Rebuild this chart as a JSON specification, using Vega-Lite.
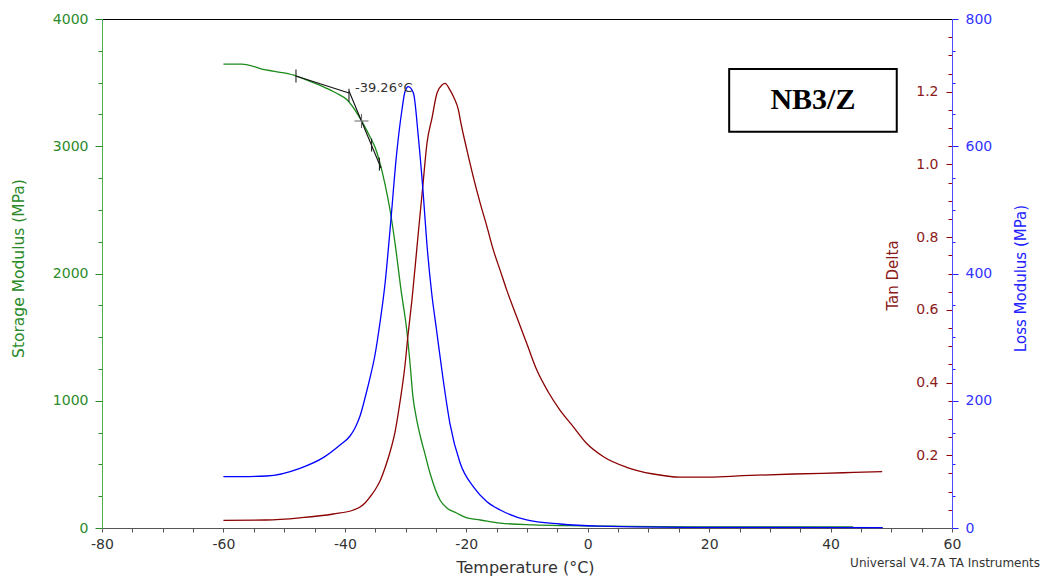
{
  "$schema": "https://vega.github.io/schema/vega-lite/v6.json",
  "width": 850,
  "height": 509,
  "autosize": "none",
  "padding": {"left": 102, "top": 19, "right": 93, "bottom": 52},
  "background": "white",
  "config": {
    "view": {"stroke": null},
    "font": "DejaVu Sans",
    "axis": {"grid": false, "labelFont": "DejaVu Sans", "titleFont": "DejaVu Sans", "titleFontWeight": "normal"}
  },
  "datasets": {
    "storage": [
      {"T": -60, "S": 3646}, {"T": -57, "S": 3646}, {"T": -53, "S": 3600}, {"T": -50, "S": 3576},
      {"T": -48, "S": 3552}, {"T": -46, "S": 3515}, {"T": -43.6, "S": 3468}, {"T": -41.5, "S": 3420},
      {"T": -39.6, "S": 3363}, {"T": -37.8, "S": 3245}, {"T": -35.86, "S": 3075}, {"T": -35.04, "S": 2994},
      {"T": -34.21, "S": 2868}, {"T": -33.39, "S": 2703}, {"T": -32.56, "S": 2499}, {"T": -31.74, "S": 2240},
      {"T": -30.75, "S": 1871}, {"T": -29.81, "S": 1556}, {"T": -29.27, "S": 1297}, {"T": -28.78, "S": 1029},
      {"T": -28.28, "S": 880}, {"T": -27.62, "S": 731}, {"T": -26.8, "S": 581}, {"T": -25.98, "S": 432},
      {"T": -24.33, "S": 220}, {"T": -23.2, "S": 157}, {"T": -21.6, "S": 118}, {"T": -19.9, "S": 79},
      {"T": -17.7, "S": 63}, {"T": -14.4, "S": 39}, {"T": -9, "S": 24}, {"T": -3, "S": 18},
      {"T": 3.7, "S": 14}, {"T": 18.5, "S": 8}, {"T": 43.7, "S": 8}
    ],
    "tan": [
      {"T": -60, "D": 0.021}, {"T": -53, "D": 0.022}, {"T": -47.4, "D": 0.028}, {"T": -41.9, "D": 0.0385},
      {"T": -38.6, "D": 0.0495}, {"T": -37.51, "D": 0.0578}, {"T": -36.68, "D": 0.0688}, {"T": -35.86, "D": 0.0853},
      {"T": -35.04, "D": 0.1045}, {"T": -34.21, "D": 0.1293}, {"T": -33.39, "D": 0.165}, {"T": -32.56, "D": 0.209},
      {"T": -31.74, "D": 0.264}, {"T": -30.92, "D": 0.3465}, {"T": -30.09, "D": 0.4483}, {"T": -29.6, "D": 0.5308},
      {"T": -28.95, "D": 0.6271}, {"T": -27.95, "D": 0.8033}, {"T": -27.13, "D": 0.9461}, {"T": -26.47, "D": 1.0589},
      {"T": -25.65, "D": 1.1276}, {"T": -24.82, "D": 1.1964}, {"T": -24.0, "D": 1.2184}, {"T": -23.5, "D": 1.223},
      {"T": -22.7, "D": 1.205}, {"T": -22.1, "D": 1.186}, {"T": -21.3, "D": 1.15}, {"T": -20.9, "D": 1.115},
      {"T": -19.9, "D": 1.04}, {"T": -18.85, "D": 0.966}, {"T": -17.7, "D": 0.893}, {"T": -16.6, "D": 0.829},
      {"T": -15.55, "D": 0.765}, {"T": -14.45, "D": 0.71}, {"T": -13.35, "D": 0.655}, {"T": -11.7, "D": 0.581},
      {"T": -10.05, "D": 0.508}, {"T": -8.4, "D": 0.435}, {"T": -6.5, "D": 0.374}, {"T": -4.6, "D": 0.325},
      {"T": -2.4, "D": 0.279}, {"T": -0.2, "D": 0.233}, {"T": 2.6, "D": 0.196}, {"T": 6.4, "D": 0.167},
      {"T": 10.8, "D": 0.1485}, {"T": 15.2, "D": 0.14}, {"T": 20.1, "D": 0.14}, {"T": 25.6, "D": 0.144},
      {"T": 33.9, "D": 0.1485}, {"T": 42.1, "D": 0.152}, {"T": 48.5, "D": 0.155}
    ],
    "loss": [
      {"T": -60, "L": 80.6}, {"T": -52.9, "L": 81.7}, {"T": -47.4, "L": 93.8}, {"T": -43.5, "L": 111},
      {"T": -40.8, "L": 130.5}, {"T": -39.15, "L": 144.6}, {"T": -38.33, "L": 157.2}, {"T": -37.5, "L": 176},
      {"T": -36.68, "L": 204.3}, {"T": -35.86, "L": 235.8}, {"T": -35.04, "L": 271.9}, {"T": -34.2, "L": 323.8},
      {"T": -33.37, "L": 385.1}, {"T": -32.56, "L": 468.4}, {"T": -31.46, "L": 589.4}, {"T": -30.6, "L": 657},
      {"T": -30.1, "L": 685.7}, {"T": -29.55, "L": 693.6}, {"T": -28.7, "L": 683.2}, {"T": -27.9, "L": 615},
      {"T": -27.1, "L": 526.5}, {"T": -26.5, "L": 447.9}, {"T": -25.7, "L": 369.4}, {"T": -24.9, "L": 311.2},
      {"T": -23.8, "L": 232.6}, {"T": -22.7, "L": 164.6}, {"T": -21, "L": 101.7}, {"T": -18.85, "L": 64.9},
      {"T": -16.6, "L": 41.3}, {"T": -14.4, "L": 28.3}, {"T": -10.05, "L": 12.6}, {"T": -4.6, "L": 6.3},
      {"T": 2, "L": 3.1}, {"T": 18.5, "L": 1.1}, {"T": 48.6, "L": 0.5}
    ],
    "tangent": [
      {"seg": 1, "T": -48.05, "S": 3552}, {"seg": 1, "T": -39.32, "S": 3418},
      {"seg": 2, "T": -39.32, "S": 3434}, {"seg": 2, "T": -34.05, "S": 2829}
    ],
    "ticks": [
      {"T": -48.05, "S": 3552}, {"T": -39.32, "S": 3400}, {"T": -35.6, "S": 3010}, {"T": -34.3, "S": 2860}
    ],
    "cross": [{"T": -37.26, "S": 3198}]
  },
  "layer": [
    {
      "data": {"name": "storage"},
      "mark": {"type": "line", "color": "#1a8a1a", "strokeWidth": 1.3, "interpolate": "monotone"},
      "encoding": {
        "x": {
          "field": "T", "type": "quantitative",
          "scale": {"domain": [-80, 60], "nice": false, "zero": false},
          "axis": {
            "orient": "bottom",
            "values": [-80,-75,-70,-65,-60,-55,-50,-45,-40,-35,-30,-25,-20,-15,-10,-5,0,5,10,15,20,25,30,35,40,45,50,55,60],
            "labelExpr": "datum.value % 20 === 0 ? '' + datum.value : ''",
            "labelFlush": false, "labelOverlap": false, "labelFontSize": 14, "labelColor": "#333333",
            "tickSize": 4, "labelPadding": 5, "tickColor": "#555555", "domainColor": "#555555",
            "title": "Temperature (°C)", "titleFontSize": 16, "titleColor": "#333333",
            "titleX": 423, "titleY": 39, "titleAlign": "center", "titleBaseline": "middle"
          }
        },
        "y": {
          "field": "S", "type": "quantitative",
          "scale": {"domain": [0, 4000], "nice": false},
          "axis": {
            "orient": "left",
            "values": [0,250,500,750,1000,1250,1500,1750,2000,2250,2500,2750,3000,3250,3500,3750,4000],
            "labelExpr": "datum.value % 1000 === 0 ? '' + datum.value : ''",
            "labelOverlap": false, "labelFlush": false, "labelFontSize": 14, "labelColor": "#2a8a2a",
            "tickSize": {"condition": {"test": "datum.value % 1000 === 0", "value": 7}, "value": 4},
            "labelPadding": 7, "tickColor": "#2a8a2a", "domainColor": "#4caf50",
            "title": "Storage Modulus (MPa)", "titleFontSize": 15.5, "titleColor": "#2a8a2a",
            "titleAngle": 270, "titleX": -84, "titleY": 249, "titleAlign": "center", "titleBaseline": "middle"
          }
        }
      }
    },
    {
      "data": {"name": "tan"},
      "mark": {"type": "line", "color": "#8b0000", "strokeWidth": 1.3, "interpolate": "monotone"},
      "encoding": {
        "x": {
          "field": "T", "type": "quantitative",
          "axis": {"orient": "top", "labels": false, "ticks": false, "domainColor": "#000000", "domainWidth": 1.2, "title": null}
        },
        "y": {
          "field": "D", "type": "quantitative",
          "scale": {"domain": [0, 1.4], "nice": false},
          "axis": {
            "orient": "left", "offset": -850,
            "values": [0.05,0.1,0.15,0.2,0.25,0.3,0.35,0.4,0.45,0.5,0.55,0.6,0.65,0.7,0.75,0.8,0.85,0.9,0.95,1.0,1.05,1.1,1.15,1.2,1.25,1.3,1.35],
            "labelExpr": "abs(datum.value*5 - round(datum.value*5)) < 0.001 && datum.value < 1.3 ? format(datum.value, '.1f') : ''",
            "labelOverlap": false, "labelFlush": false, "labelFontSize": 14, "labelColor": "#8b1a1a",
            "tickSize": {"condition": {"test": "abs(datum.value*5 - round(datum.value*5)) < 0.001", "value": 6}, "value": 4},
            "labelPadding": 8, "tickColor": "#8b0000", "domain": false,
            "title": "Tan Delta", "titleFontSize": 15, "titleColor": "#8b1a1a",
            "titleAngle": 270, "titleX": -60, "titleY": 256, "titleAlign": "center", "titleBaseline": "middle"
          }
        }
      }
    },
    {
      "data": {"name": "loss"},
      "mark": {"type": "line", "color": "#0000ff", "strokeWidth": 1.3, "interpolate": "monotone"},
      "encoding": {
        "x": {"field": "T", "type": "quantitative", "axis": null},
        "y": {
          "field": "L", "type": "quantitative",
          "scale": {"domain": [0, 800], "nice": false},
          "axis": {
            "orient": "right",
            "values": [0,50,100,150,200,250,300,350,400,450,500,550,600,650,700,750,800],
            "labelExpr": "datum.value % 200 === 0 ? '' + datum.value : ''",
            "labelOverlap": false, "labelFlush": false, "labelFontSize": 14, "labelColor": "#3333ff",
            "tickSize": {"condition": {"test": "datum.value % 200 === 0", "value": 6}, "value": 3},
            "labelPadding": 7, "tickColor": "#2222ff", "domainColor": "#4d4dff",
            "title": "Loss Modulus (MPa)", "titleFontSize": 15, "titleColor": "#2222ff",
            "titleAngle": 270, "titleX": 68, "titleY": 259, "titleAlign": "center", "titleBaseline": "middle"
          }
        }
      }
    },
    {
      "data": {"name": "tangent"},
      "mark": {"type": "line", "color": "#111111", "strokeWidth": 1.1},
      "encoding": {
        "x": {"field": "T", "type": "quantitative", "axis": null},
        "y": {"field": "S", "type": "quantitative", "scale": {"domain": [0, 4000], "nice": false}, "axis": null},
        "detail": {"field": "seg", "type": "nominal"}
      }
    },
    {
      "data": {"name": "ticks"},
      "mark": {"type": "point", "shape": "M0,-1L0,1", "filled": false, "stroke": "#222222", "strokeWidth": 1.1, "size": 169, "opacity": 1},
      "encoding": {
        "x": {"field": "T", "type": "quantitative", "axis": null},
        "y": {"field": "S", "type": "quantitative", "scale": {"domain": [0, 4000], "nice": false}, "axis": null}
      }
    },
    {
      "data": {"name": "cross"},
      "mark": {"type": "point", "shape": "M-1,0L1,0M0,-1L0,1", "filled": false, "stroke": "#666666", "strokeWidth": 1.1, "size": 196, "opacity": 1},
      "encoding": {
        "x": {"field": "T", "type": "quantitative", "axis": null},
        "y": {"field": "S", "type": "quantitative", "scale": {"domain": [0, 4000], "nice": false}, "axis": null}
      }
    },
    {
      "data": {"values": [{"T": -38.33, "S": 3458, "label": "-39.26°C"}]},
      "mark": {"type": "text", "align": "left", "baseline": "middle", "fontSize": 13, "color": "#333333", "font": "DejaVu Sans"},
      "encoding": {
        "x": {"field": "T", "type": "quantitative", "axis": null},
        "y": {"field": "S", "type": "quantitative", "scale": {"domain": [0, 4000], "nice": false}, "axis": null},
        "text": {"field": "label"}
      }
    },
    {
      "data": {"values": [{"T1": 23.3, "T2": 50.9, "S1": 3607, "S2": 3114}]},
      "mark": {"type": "rect", "fill": "white", "stroke": "black", "strokeWidth": 2},
      "encoding": {
        "x": {"field": "T1", "type": "quantitative", "axis": null},
        "x2": {"field": "T2"},
        "y": {"field": "S1", "type": "quantitative", "scale": {"domain": [0, 4000], "nice": false}, "axis": null},
        "y2": {"field": "S2"}
      }
    },
    {
      "data": {"values": [{"T": 37.1, "S": 3360, "label": "NB3/Z"}]},
      "mark": {"type": "text", "align": "center", "baseline": "middle", "fontSize": 30, "fontWeight": "bold", "font": "Liberation Serif", "color": "black"},
      "encoding": {
        "x": {"field": "T", "type": "quantitative", "axis": null},
        "y": {"field": "S", "type": "quantitative", "scale": {"domain": [0, 4000], "nice": false}, "axis": null},
        "text": {"field": "label"}
      }
    },
    {
      "data": {"values": [{"T": 74.5, "S": -275, "label": "Universal V4.7A TA Instruments"}]},
      "mark": {"type": "text", "align": "right", "baseline": "middle", "fontSize": 12, "font": "DejaVu Sans", "color": "#333333"},
      "encoding": {
        "x": {"field": "T", "type": "quantitative", "axis": null},
        "y": {"field": "S", "type": "quantitative", "scale": {"domain": [0, 4000], "nice": false}, "axis": null},
        "text": {"field": "label"}
      }
    }
  ],
  "resolve": {"scale": {"y": "independent"}, "axis": {"x": "independent"}}
}
